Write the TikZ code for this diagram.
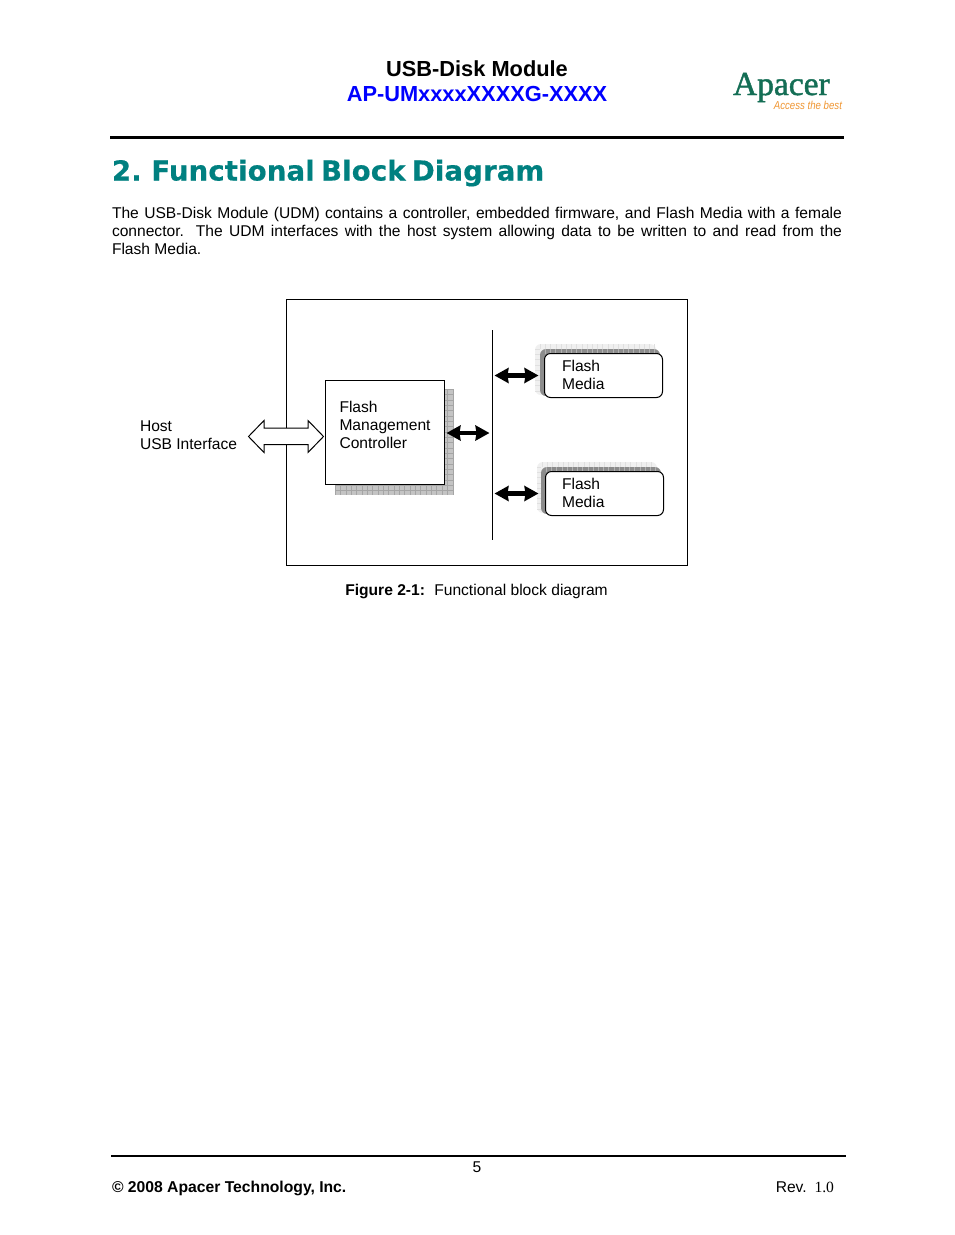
\documentclass[tikz,border=0pt]{standalone}
\usepackage{fontspec}
\usepackage{graphicx}
\setmainfont{Liberation Sans}
\newfontfamily\headfont[WordSpace=0.65,LetterSpace=0.6,FakeBold=0.5]{DejaVu Sans}
\newfontfamily\logofont{Liberation Serif}
\newfontfamily\logobold[FakeBold=1.3]{Liberation Serif}
\usetikzlibrary{arrows.meta}
\definecolor{teal2}{RGB}{0,128,128}
\definecolor{logogreen}{RGB}{20,110,85}
\definecolor{logoorange}{RGB}{240,150,50}
\definecolor{blueh}{RGB}{0,0,255}
\definecolor{shad}{RGB}{196,196,196}
\definecolor{shadline}{RGB}{165,165,165}
\tikzset{
  x=1pt,y=-1pt,
  txt/.style={inner sep=0pt,outer sep=0pt,font=\fontsize{15.6}{18}\selectfont,align=left},
  box/.style={draw=black,line width=1pt,fill=white,inner sep=0pt,outer sep=0pt},
  flashbox/.style={box,rounded corners=6},
  bus/.style={draw=black,line width=1pt},
  thickarrow/.style={draw=black,line width=4.4pt,{Stealth[length=14pt,width=15pt,inset=1pt]}-{Stealth[length=14pt,width=15pt,inset=1pt]}},
  hostarrow/.style={draw=black,line width=1pt,fill=white,line join=miter},
  gridline/.style={shadline,line width=0.4pt},
  softline/.style={black!12,line width=0.4pt},
}
\begin{document}
\begin{tikzpicture}
\useasboundingbox[fill=white] (0,0) rectangle (954,1235);
% header
\node[txt,anchor=center,font=\fontsize{21.8}{24}\selectfont\bfseries] (h1) at (477,68.5) {USB-Disk Module};
\node[txt,anchor=center,text=blueh,font=\fontsize{21.8}{24}\selectfont\bfseries] (h2) at (477,93.5) {AP-UMxxxxXXXXG-XXXX};
\node[txt,anchor=base west,text=logogreen,font=\logobold\fontsize{33.5}{36}\selectfont] (logo) at (733,95) {Apacer};
\node[txt,anchor=base east,text=logoorange,font=\fontsize{11.5}{13}\selectfont\itshape] (slogan) at (842,109) {\scalebox{0.84}[1]{Access the best}};
\fill[black] (110,136) rectangle (844,139);
\node[txt,anchor=base west,text=teal2,font=\headfont\fontsize{27.5}{30}\selectfont\bfseries] (title) at (112,180.5) {2. Functional Block Diagram};
\node[txt,anchor=north west,text width=730pt,align=justify] (para) at (112,207.5) {The USB-Disk Module (UDM) contains a controller, embedded firmware, and Flash Media with a female\linebreak connector. The UDM interfaces with the host system allowing data to be written to and read from the\linebreak Flash Media.};
% frame
\node[box,anchor=north west,minimum width=401pt,minimum height=266pt] (frame) at (286.5,299.5) {};
% host arrow
\coordinate (hc) at (286,436.5);
\draw[hostarrow] (248.5,436.5) -- (264,420.5) -- (264,428) -- (308,428) -- (308,420.5) -- (323.5,436.5) -- (308,452.5) -- (308,444.5) -- (264,444.5) -- (264,452.5) -- cycle;
\node[txt,anchor=north west] (hostlabel) at (140,421) {Host\\USB Interface};
% controller shadow
\fill[shad] (335,389) rectangle (454,495);
\foreach \i in {0,...,22} \draw[gridline] (335+\i*5.35,389) -- (335+\i*5.35,495);
\foreach \i in {0,...,19} \draw[gridline] (335,389+\i*5.35) -- (454,389+\i*5.35);
\node[box,anchor=north west,minimum width=119pt,minimum height=104pt] (ctrl) at (325.5,380.5) {};
\node[txt,anchor=north west] (ctrltext) at (339.5,401) {Flash\\Management\\Controller};
% bus
\coordinate (bustop) at (492.5,330);
\coordinate (busbot) at (492.5,540);
\draw[bus] (bustop) -- (busbot);
% flash 1
\fill[black!6,rounded corners=6] (535,344) rectangle (656,395);
\foreach \i in {1,...,23} \draw[softline] (535+\i*5.2,344) -- (535+\i*5.2,349);
\foreach \i in {1,...,9} \draw[softline] (535,344+\i*5.2) -- (540,344+\i*5.2);
\fill[black!45,rounded corners=6] (540,349) rectangle (660,396);
\foreach \i in {1,...,22} \draw[black!30,line width=0.4pt] (540+\i*5.2,349) -- (540+\i*5.2,354);
\node[flashbox,anchor=north west,minimum width=118pt,minimum height=44pt] (f1) at (544.5,353.5) {};
\node[txt,anchor=north west] (f1t) at (562,360) {Flash\\Media};
% flash 2
\fill[black!6,rounded corners=6] (537,462) rectangle (657,513);
\foreach \i in {1,...,22} \draw[softline] (537+\i*5.2,462) -- (537+\i*5.2,467);
\foreach \i in {1,...,9} \draw[softline] (537,462+\i*5.2) -- (541,462+\i*5.2);
\fill[black!45,rounded corners=6] (541,467) rectangle (661,514);
\foreach \i in {1,...,22} \draw[black!30,line width=0.4pt] (541+\i*5.2,467) -- (541+\i*5.2,472);
\node[flashbox,anchor=north west,minimum width=118pt,minimum height=44pt] (f2) at (545.5,471.5) {};
\node[txt,anchor=north west] (f2t) at (562,478) {Flash\\Media};
% arrows
\coordinate (a1l) at (494.5,375.5);
\coordinate (a1r) at (538.5,375.5);
\coordinate (a2l) at (494.5,493.5);
\coordinate (a2r) at (538.5,493.5);
\coordinate (a3l) at (446.5,433);
\coordinate (a3r) at (489.5,433);
\draw[thickarrow] (a1l) -- (a1r);
\draw[thickarrow] (a2l) -- (a2r);
\draw[thickarrow] (a3l) -- (a3r);
% caption
\node[txt,anchor=base] (cap) at (476.5,595) {\textbf{Figure 2-1:}\hspace{3.5pt} Functional block diagram};
% footer
\fill[black] (111,1155) rectangle (846,1157);
\node[txt,anchor=base] (pg) at (477,1172) {5};
\node[txt,anchor=base west,font=\fontsize{15.7}{18}\selectfont\bfseries] (copy) at (112,1192) {© 2008 Apacer Technology, Inc.};
\node[txt,anchor=base east] (rev) at (834,1192) {Rev.\hspace{2pt} {\logofont 1.0}};
\end{tikzpicture}
\end{document}
